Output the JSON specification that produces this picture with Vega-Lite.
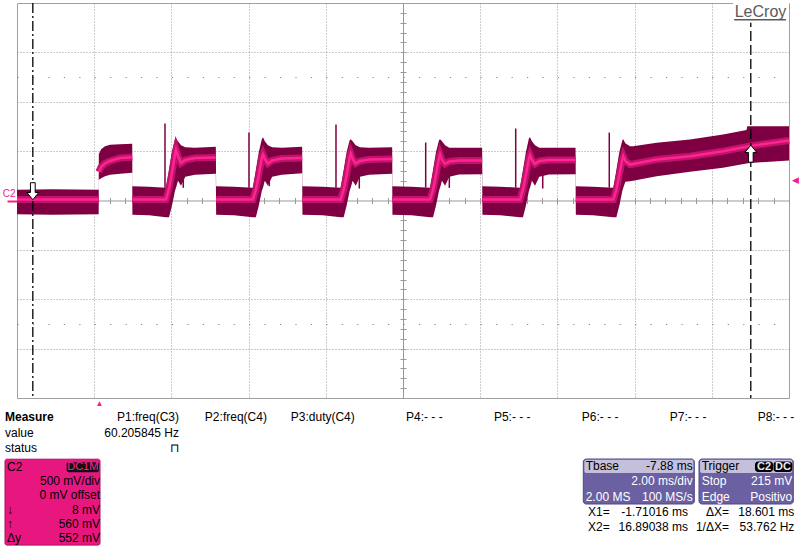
{
"$schema": "https://vega.github.io/schema/vega-lite/v6.json",
"width": 772, "height": 395,
"autosize": {"type": "none"},
"padding": {"left": 17, "top": 3, "right": 11, "bottom": 149},
"background": "white",
"config": {"view": {"stroke": "#a0a0a0", "strokeWidth": 1}, "font": "Liberation Sans"},
"datasets": {
"wave": [
{"t":-2.12,"u":0.11,"c":0.01,"l":-0.14,"s":0},{"t":-1.2,"u":0.115,"c":0.01,"l":-0.145,"s":0},{"t":-0.004,"u":0.11,"c":0.01,"l":-0.14,"s":0},
{"t":0.0,"u":0.47,"c":0.29,"l":0.21,"s":1},{"t":0.06,"u":0.52,"c":0.34,"l":0.225,"s":1},{"t":0.16,"u":0.55,"c":0.375,"l":0.245,"s":1},{"t":0.29,"u":0.565,"c":0.40,"l":0.26,"s":1},{"t":0.55,"u":0.57,"c":0.43,"l":0.27,"s":1},{"t":0.865,"u":0.575,"c":0.438,"l":0.28,"s":1},
{"t":0.869,"u":0.145,"c":0.01,"l":-0.145,"s":2},{"t":1.3,"u":0.14,"c":0.01,"l":-0.15,"s":2},{"t":1.74,"u":0.13,"c":0.01,"l":-0.17,"s":2},{"t":1.818,"u":0.31,"c":0.12,"l":-0.17,"s":2},{"t":1.895,"u":0.49,"c":0.28,"l":-0.05,"s":2},{"t":1.973,"u":0.62,"c":0.47,"l":0.10,"s":2},{"t":2.0,"u":0.63,"c":0.516,"l":0.13,"s":2},{"t":2.05,"u":0.60,"c":0.45,"l":0.20,"s":2},{"t":2.13,"u":0.56,"c":0.38,"l":0.15,"s":2},{"t":2.24,"u":0.54,"c":0.41,"l":0.24,"s":2},{"t":2.49,"u":0.535,"c":0.43,"l":0.26,"s":2},{"t":3.031,"u":0.545,"c":0.435,"l":0.27,"s":2},
{"t":3.039,"u":0.145,"c":0.01,"l":-0.145,"s":3},{"t":3.5,"u":0.14,"c":0.01,"l":-0.15,"s":3},{"t":3.99,"u":0.13,"c":0.01,"l":-0.17,"s":3},{"t":4.068,"u":0.31,"c":0.11,"l":-0.17,"s":3},{"t":4.145,"u":0.49,"c":0.26,"l":-0.05,"s":3},{"t":4.223,"u":0.62,"c":0.435,"l":0.10,"s":3},{"t":4.253,"u":0.64,"c":0.466,"l":0.13,"s":3},{"t":4.30,"u":0.60,"c":0.42,"l":0.20,"s":3},{"t":4.38,"u":0.56,"c":0.375,"l":0.15,"s":3},{"t":4.49,"u":0.54,"c":0.405,"l":0.24,"s":3},{"t":4.74,"u":0.535,"c":0.425,"l":0.26,"s":3},{"t":5.267,"u":0.545,"c":0.43,"l":0.275,"s":3},
{"t":5.275,"u":0.145,"c":0.01,"l":-0.145,"s":4},{"t":5.8,"u":0.14,"c":0.01,"l":-0.15,"s":4},{"t":6.265,"u":0.13,"c":0.01,"l":-0.17,"s":4},{"t":6.343,"u":0.31,"c":0.11,"l":-0.17,"s":4},{"t":6.42,"u":0.49,"c":0.26,"l":-0.05,"s":4},{"t":6.498,"u":0.61,"c":0.44,"l":0.10,"s":4},{"t":6.525,"u":0.62,"c":0.476,"l":0.13,"s":4},{"t":6.575,"u":0.60,"c":0.42,"l":0.20,"s":4},{"t":6.655,"u":0.56,"c":0.375,"l":0.15,"s":4},{"t":6.765,"u":0.54,"c":0.40,"l":0.24,"s":4},{"t":7.0,"u":0.535,"c":0.415,"l":0.26,"s":4},{"t":7.599,"u":0.54,"c":0.42,"l":0.27,"s":4},
{"t":7.607,"u":0.145,"c":0.01,"l":-0.145,"s":5},{"t":8.1,"u":0.14,"c":0.01,"l":-0.15,"s":5},{"t":8.58,"u":0.13,"c":0.01,"l":-0.17,"s":5},{"t":8.658,"u":0.31,"c":0.11,"l":-0.17,"s":5},{"t":8.735,"u":0.49,"c":0.26,"l":-0.05,"s":5},{"t":8.813,"u":0.61,"c":0.43,"l":0.10,"s":5},{"t":8.839,"u":0.62,"c":0.466,"l":0.13,"s":5},{"t":8.89,"u":0.60,"c":0.41,"l":0.20,"s":5},{"t":8.97,"u":0.56,"c":0.37,"l":0.15,"s":5},{"t":9.08,"u":0.535,"c":0.395,"l":0.24,"s":5},{"t":9.33,"u":0.533,"c":0.405,"l":0.263,"s":5},{"t":9.93,"u":0.535,"c":0.405,"l":0.265,"s":5},
{"t":9.938,"u":0.145,"c":0.01,"l":-0.145,"s":6},{"t":10.4,"u":0.14,"c":0.01,"l":-0.15,"s":6},{"t":10.91,"u":0.13,"c":0.01,"l":-0.17,"s":6},{"t":10.988,"u":0.31,"c":0.11,"l":-0.17,"s":6},{"t":11.065,"u":0.49,"c":0.26,"l":-0.05,"s":6},{"t":11.143,"u":0.63,"c":0.43,"l":0.10,"s":6},{"t":11.17,"u":0.64,"c":0.46,"l":0.13,"s":6},{"t":11.22,"u":0.60,"c":0.41,"l":0.20,"s":6},{"t":11.30,"u":0.56,"c":0.37,"l":0.15,"s":6},{"t":11.41,"u":0.535,"c":0.40,"l":0.24,"s":6},{"t":11.66,"u":0.533,"c":0.41,"l":0.263,"s":6},{"t":12.35,"u":0.535,"c":0.41,"l":0.265,"s":6},
{"t":12.358,"u":0.145,"c":0.01,"l":-0.145,"s":7},{"t":12.8,"u":0.14,"c":0.01,"l":-0.15,"s":7},{"t":13.33,"u":0.13,"c":0.01,"l":-0.17,"s":7},{"t":13.408,"u":0.31,"c":0.11,"l":-0.17,"s":7},{"t":13.485,"u":0.49,"c":0.26,"l":-0.05,"s":7},{"t":13.563,"u":0.61,"c":0.42,"l":0.10,"s":7},{"t":13.587,"u":0.62,"c":0.449,"l":0.13,"s":7},{"t":13.64,"u":0.58,"c":0.40,"l":0.19,"s":7},{"t":13.76,"u":0.55,"c":0.364,"l":0.195,"s":7},{"t":13.84,"u":0.55,"c":0.37,"l":0.2,"s":7},{"t":14.45,"u":0.584,"c":0.415,"l":0.246,"s":7},{"t":15.315,"u":0.617,"c":0.449,"l":0.29,"s":7},{"t":16.17,"u":0.668,"c":0.499,"l":0.331,"s":7},{"t":16.78,"u":0.715,"c":0.545,"l":0.375,"s":7},{"t":16.80,"u":0.752,"c":0.548,"l":0.378,"s":7},{"t":17.88,"u":0.752,"c":0.607,"l":0.405,"s":7}
],
"spikes": [
{"t":1.714,"v0":0.13,"v1":0.779},{"t":3.89,"v0":0.13,"v1":0.688},{"t":6.144,"v0":0.13,"v1":0.769},{"t":8.468,"v0":0.13,"v1":0.587},{"t":10.80,"v0":0.13,"v1":0.729},{"t":13.224,"v0":0.13,"v1":0.688},
{"t":2.188,"v0":0.26,"v1":0.128},{"t":4.416,"v0":0.26,"v1":0.145},{"t":6.748,"v0":0.26,"v1":0.121},{"t":9.08,"v0":0.26,"v1":0.128},{"t":11.50,"v0":0.26,"v1":0.121}
],
"cursors": [{"cursor":"X1","t":-1.71016,"v":0.008},{"cursor":"X2","t":16.89038,"v":0.56}],
"measure": [
{"col":0,"row":0,"text":"Measure"},{"col":0,"row":1,"text":"value"},{"col":0,"row":2,"text":"status"},
{"col":1,"row":0,"text":"P1:freq(C3)"},{"col":1,"row":1,"text":"60.205845 Hz"},{"col":1,"row":2,"text":"⊓"},
{"col":2,"row":0,"text":"P2:freq(C4)"},{"col":3,"row":0,"text":"P3:duty(C4)"},{"col":4,"row":0,"text":"P4:- - -"},{"col":5,"row":0,"text":"P5:- - -"},{"col":6,"row":0,"text":"P6:- - -"},{"col":7,"row":0,"text":"P7:- - -"},{"col":8,"row":0,"text":"P8:- - -"}
],
"channel": [{"row":0,"label":"C2","value":""},{"row":1,"label":"","value":"500 mV/div"},{"row":2,"label":"","value":"0 mV offset"},{"row":3,"label":"↓","value":"8 mV"},{"row":4,"label":"↑","value":"560 mV"},{"row":5,"label":"Δy","value":"552 mV"}],
"timebase": [{"row":0,"label":"Tbase","value":"-7.88 ms"},{"row":1,"label":"","value":"2.00 ms/div"},{"row":2,"label":"2.00 MS","value":"100 MS/s"}],
"trigger": [{"row":0,"label":"Trigger","value":""},{"row":1,"label":"Stop","value":"215 mV"},{"row":2,"label":"Edge","value":"Positivo"}],
"cursortext": [{"row":3,"a":"X1=","b":"-1.71016 ms","c":"ΔX=","d":"18.601 ms"},{"row":4,"a":"X2=","b":"16.89038 ms","c":"1/ΔX=","d":"53.762 Hz"}]
},
"layer": [
{
"layer": [
{"data":{"name":"wave"},"mark":{"type":"area","color":"#7e0042","opacity":1},
 "encoding":{
  "x":{"field":"t","type":"quantitative","scale":{"domain":[-2.12,17.88],"nice":false,"zero":false},
       "axis":{"orient":"bottom","values":[-0.12,1.88,3.88,5.88,9.88,11.88,13.88,15.88],"grid":true,"gridDash":[1,2],"gridColor":"#999999","gridOpacity":1,"labels":false,"ticks":false,"domain":false,"title":null}},
  "y":{"field":"u","type":"quantitative","scale":{"domain":[-2,2],"nice":false,"zero":false},
       "axis":{"orient":"left","values":[-1.5,-1,-0.5,0.5,1,1.5],"grid":true,"gridDash":[1,2],"gridColor":"#999999","gridOpacity":1,"labels":false,"ticks":false,"domain":false,"title":null}},
  "y2":{"field":"l"}}},
{"data":{"name":"wave"},"mark":{"type":"line","color":"#c0136a","strokeWidth":7,"strokeCap":"butt"},
 "encoding":{
  "x":{"field":"t","type":"quantitative","scale":{"domain":[-2.12,17.88],"nice":false,"zero":false},
       "axis":{"orient":"bottom","offset":-197.5,"values":[-2.12,-1.72,-1.32,-0.92,-0.52,-0.12,0.28,0.68,1.08,1.48,1.88,2.28,2.68,3.08,3.48,3.88,4.28,4.68,5.08,5.48,5.88,6.28,6.68,7.08,7.48,7.88,8.28,8.68,9.08,9.48,9.88,10.28,10.68,11.08,11.48,11.88,12.28,12.68,13.08,13.48,13.88,14.28,14.68,15.08,15.48,15.88,16.28,16.68,17.08,17.48,17.88],"domain":true,"domainColor":"#999999","ticks":true,"tickSize":3,"tickColor":"#999999","labels":false,"grid":false,"title":null}},
  "y":{"field":"c","type":"quantitative","scale":{"domain":[-2,2],"nice":false,"zero":false},
       "axis":{"orient":"left","offset":-386,"values":[-1.9,-1.8,-1.7,-1.6,-1.5,-1.4,-1.3,-1.2,-1.1,-1,-0.9,-0.8,-0.7,-0.6,-0.5,-0.4,-0.3,-0.2,-0.1,0,0.1,0.2,0.3,0.4,0.5,0.6,0.7,0.8,0.9,1,1.1,1.2,1.3,1.4,1.5,1.6,1.7,1.8,1.9],"domain":true,"domainColor":"#999999","ticks":true,"tickSize":3,"tickColor":"#999999","labels":false,"grid":false,"title":null}},
  "detail":{"field":"s","type":"nominal"}}},
{"data":{"name":"wave"},"mark":{"type":"line","color":"#ff2492","strokeWidth":2.5},
 "encoding":{
  "x":{"field":"t","type":"quantitative","scale":{"domain":[-2.12,17.88],"nice":false,"zero":false},
       "axis":{"orient":"top","offset":-197.5,"values":[-2.12,-1.72,-1.32,-0.92,-0.52,-0.12,0.28,0.68,1.08,1.48,1.88,2.28,2.68,3.08,3.48,3.88,4.28,4.68,5.08,5.48,5.88,6.28,6.68,7.08,7.48,7.88,8.28,8.68,9.08,9.48,9.88,10.28,10.68,11.08,11.48,11.88,12.28,12.68,13.08,13.48,13.88,14.28,14.68,15.08,15.48,15.88,16.28,16.68,17.08,17.48,17.88],"domain":false,"ticks":true,"tickSize":3,"tickColor":"#999999","labels":false,"grid":false,"title":null}},
  "y":{"field":"c","type":"quantitative","scale":{"domain":[-2,2],"nice":false,"zero":false},
       "axis":{"orient":"right","offset":-386,"values":[-1.9,-1.8,-1.7,-1.6,-1.5,-1.4,-1.3,-1.2,-1.1,-1,-0.9,-0.8,-0.7,-0.6,-0.5,-0.4,-0.3,-0.2,-0.1,0,0.1,0.2,0.3,0.4,0.5,0.6,0.7,0.8,0.9,1,1.1,1.2,1.3,1.4,1.5,1.6,1.7,1.8,1.9],"domain":false,"ticks":true,"tickSize":3,"tickColor":"#999999","labels":false,"grid":false,"title":null}},
  "detail":{"field":"s","type":"nominal"}}},
{"data":{"name":"spikes"},"mark":{"type":"rule","color":"#7e0042","strokeWidth":1.5},
 "encoding":{
  "x":{"field":"t","type":"quantitative","scale":{"domain":[-2.12,17.88],"nice":false,"zero":false},
       "axis":{"orient":"bottom","values":[0],"labelExpr":"'▲'","labelColor":"#f0208a","labelFontSize":8,"labelPadding":1,"ticks":false,"domain":false,"grid":false,"title":null}},
  "y":{"field":"v0","type":"quantitative","scale":{"domain":[-2,2],"nice":false,"zero":false},
       "axis":{"orient":"left","values":[-1.25,1.25],"grid":true,"gridDash":[1.2,14.24],"gridColor":"#888888","gridOpacity":1,"labels":false,"ticks":false,"domain":false,"title":null}},
  "y2":{"field":"v1"}}},
{"data":{"name":"cursors"},"mark":{"type":"rule","color":"black","strokeWidth":1.3},
 "encoding":{
  "x":{"field":"t","type":"quantitative","scale":{"domain":[-2.12,17.88],"nice":false,"zero":false},"axis":null},
  "strokeDash":{"field":"cursor","type":"nominal","scale":{"domain":["X1","X2"],"range":[[10,3,2,3],[10,4]]},"legend":null}}},
{"data":{"name":"cursors"},"mark":{"type":"point","filled":true,"fill":"white","stroke":"black","strokeWidth":1,"opacity":1,"size":289},
 "encoding":{
  "x":{"field":"t","type":"quantitative","scale":{"domain":[-2.12,17.88],"nice":false,"zero":false},"axis":null},
  "y":{"field":"v","type":"quantitative","scale":{"domain":[-2,2],"nice":false,"zero":false},
       "axis":{"orient":"left","values":[0],"labelExpr":"'C2'","labelColor":"#f0208a","labelFontSize":10,"labelPadding":-8,"labelBaseline":"alphabetic","labelOffset":-4,"ticks":true,"tickSize":10,"tickWidth":2,"tickColor":"#f0208a","domain":false,"grid":false,"title":null}},
  "shape":{"field":"cursor","type":"nominal","scale":{"domain":["X1","X2"],"range":["M-0.28,-2L0.28,-2L0.28,-0.85L0.7,-0.85L0,0L-0.7,-0.85L-0.28,-0.85Z","M0,0L0.7,0.85L0.28,0.85L0.28,2L-0.28,2L-0.28,0.85L-0.7,0.85Z"]},"legend":null}}},
{"data":{"values":[{}]},"mark":{"type":"rect","fill":"white"},
 "encoding":{
  "x":{"datum":16.43,"type":"quantitative","scale":{"domain":[-2.12,17.88],"nice":false,"zero":false},"axis":null},
  "x2":{"datum":17.88},
  "y":{"datum":2,"type":"quantitative","scale":{"domain":[-2,2],"nice":false,"zero":false},
       "axis":{"orient":"right","values":[0.215],"labelExpr":"'◀'","labelColor":"#f0208a","labelFontSize":9,"labelPadding":2,"ticks":false,"domain":false,"grid":false,"title":null}},
  "y2":{"datum":1.8}}},
{"data":{"values":[{}]},"mark":{"type":"rule","color":"#5a5a5a","strokeWidth":1.5},
 "encoding":{
  "x":{"datum":16.46,"type":"quantitative","scale":{"domain":[-2.12,17.88],"nice":false,"zero":false},"axis":null},
  "x2":{"datum":17.80},
  "y":{"datum":1.83,"type":"quantitative","scale":{"domain":[-2,2],"nice":false,"zero":false},"axis":null}}},
{"data":{"values":[{"text":"LeCroy"}]},"mark":{"type":"text","align":"right","baseline":"alphabetic","fontSize":16,"fill":"#5a5a5a"},
 "encoding":{
  "x":{"datum":17.81,"type":"quantitative","scale":{"domain":[-2.12,17.88],"nice":false,"zero":false},"axis":null},
  "y":{"datum":1.86,"type":"quantitative","scale":{"domain":[-2,2],"nice":false,"zero":false},"axis":null},
  "text":{"field":"text"}}}
],
"resolve":{"axis":{"x":"independent","y":"independent"}}
},
{
"layer": [
{"data":{"name":"measure"},
 "layer":[
  {"transform":[{"filter":"datum.col == 0 && datum.row == 0"}],
   "mark":{"type":"text","align":"left","baseline":"middle","fontSize":12,"fontWeight":"bold","fill":"black"},
   "encoding":{"x":{"field":"col","type":"quantitative","scale":{"domain":[0,1],"range":[-12,76]},"axis":null},
     "y":{"field":"row","type":"quantitative","scale":{"domain":[0,2],"range":[413.7,445.3]},"axis":null},
     "text":{"field":"text"}}},
  {"transform":[{"filter":"datum.col == 0 && datum.row > 0"}],
   "mark":{"type":"text","align":"left","baseline":"middle","fontSize":12,"fill":"black"},
   "encoding":{"x":{"field":"col","type":"quantitative","scale":{"domain":[0,1],"range":[-12,76]},"axis":null},
     "y":{"field":"row","type":"quantitative","scale":{"domain":[0,2],"range":[413.7,445.3]},"axis":null},
     "text":{"field":"text"}}},
  {"transform":[{"filter":"datum.col > 0"}],
   "mark":{"type":"text","align":"right","baseline":"middle","fontSize":12,"fill":"black"},
   "encoding":{"x":{"field":"col","type":"quantitative","scale":{"domain":[1,8],"range":[162,777.3]},"axis":null},
     "y":{"field":"row","type":"quantitative","scale":{"domain":[0,2],"range":[413.7,445.3]},"axis":null},
     "text":{"field":"text"}}}
 ],
 "resolve":{"scale":{"x":"independent"}}},
{"layer":[
  {"data":{"values":[{}]},"mark":{"type":"rect","fill":"#e8177f","stroke":"#a8105e","strokeWidth":1,"cornerRadius":2},
   "encoding":{"x":{"datum":0,"type":"quantitative","scale":{"domain":[0,1],"range":[-12,83]},"axis":null},"x2":{"datum":1},
     "y":{"datum":-0.55,"type":"quantitative","scale":{"domain":[0,5],"range":[464,535]},"axis":null},"y2":{"datum":5.5}}},
  {"data":{"values":[{}]},"mark":{"type":"rect","fill":"#111111","cornerRadius":2},
   "encoding":{"x":{"datum":0.649,"type":"quantitative","scale":{"domain":[0,1],"range":[-12,83]},"axis":null},"x2":{"datum":0.989},
     "y":{"datum":-0.33,"type":"quantitative","scale":{"domain":[0,5],"range":[464,535]},"axis":null},"y2":{"datum":0.37}}},
  {"data":{"values":[{"text":"DC1M"}]},"mark":{"type":"text","align":"center","baseline":"middle","fontSize":11,"fill":"#ff2492"},
   "encoding":{"x":{"datum":0.819,"type":"quantitative","scale":{"domain":[0,1],"range":[-12,83]},"axis":null},
     "y":{"datum":0.03,"type":"quantitative","scale":{"domain":[0,5],"range":[464,535]},"axis":null},"text":{"field":"text"}}},
  {"data":{"name":"channel"},"mark":{"type":"text","align":"left","baseline":"middle","fontSize":12,"fill":"black","dx":2},
   "encoding":{"x":{"datum":0,"type":"quantitative","scale":{"domain":[0,1],"range":[-12,83]},"axis":null},
     "y":{"field":"row","type":"quantitative","scale":{"domain":[0,5],"range":[464,535]},"axis":null},"text":{"field":"label"}}},
  {"data":{"name":"channel"},"mark":{"type":"text","align":"right","baseline":"middle","fontSize":12,"fill":"black"},
   "encoding":{"x":{"datum":1,"type":"quantitative","scale":{"domain":[0,1],"range":[-12,83]},"axis":null},
     "y":{"field":"row","type":"quantitative","scale":{"domain":[0,5],"range":[464,535]},"axis":null},"text":{"field":"value"}}}
]},
{"layer":[
  {"data":{"values":[{}]},"mark":{"type":"rect","fill":"#6a60a2","stroke":"#4e4785","strokeWidth":1,"cornerRadius":3},
   "encoding":{"x":{"datum":0,"type":"quantitative","scale":{"domain":[0,1],"range":[566.3,776.3]},"axis":null},"x2":{"datum":0.5286},
     "y":{"datum":-0.456,"type":"quantitative","scale":{"domain":[0,4],"range":[463,524.4]},"axis":null},"y2":{"datum":2.476}}},
  {"data":{"values":[{}]},"mark":{"type":"rect","fill":"#c4c0dc","cornerRadius":2},
   "encoding":{"x":{"datum":0.005,"type":"quantitative","scale":{"domain":[0,1],"range":[566.3,776.3]},"axis":null},"x2":{"datum":0.524},
     "y":{"datum":-0.41,"type":"quantitative","scale":{"domain":[0,4],"range":[463,524.4]},"axis":null},"y2":{"datum":0.45}}},
  {"data":{"values":[{}]},"mark":{"type":"rect","fill":"#6a60a2","stroke":"#4e4785","strokeWidth":1,"cornerRadius":3},
   "encoding":{"x":{"datum":0.551,"type":"quantitative","scale":{"domain":[0,1],"range":[566.3,776.3]},"axis":null},"x2":{"datum":1.0},
     "y":{"datum":-0.456,"type":"quantitative","scale":{"domain":[0,4],"range":[463,524.4]},"axis":null},"y2":{"datum":2.476}}},
  {"data":{"values":[{}]},"mark":{"type":"rect","fill":"#c4c0dc","cornerRadius":2},
   "encoding":{"x":{"datum":0.556,"type":"quantitative","scale":{"domain":[0,1],"range":[566.3,776.3]},"axis":null},"x2":{"datum":0.995},
     "y":{"datum":-0.41,"type":"quantitative","scale":{"domain":[0,4],"range":[463,524.4]},"axis":null},"y2":{"datum":0.45}}},
  {"data":{"values":[{}]},"mark":{"type":"rect","fill":"#000000","cornerRadius":3},
   "encoding":{"x":{"datum":0.8176,"type":"quantitative","scale":{"domain":[0,1],"range":[566.3,776.3]},"axis":null},"x2":{"datum":0.9033},
     "y":{"datum":-0.293,"type":"quantitative","scale":{"domain":[0,4],"range":[463,524.4]},"axis":null},"y2":{"datum":0.391}}},
  {"data":{"values":[{}]},"mark":{"type":"rect","fill":"#000000","cornerRadius":3},
   "encoding":{"x":{"datum":0.9057,"type":"quantitative","scale":{"domain":[0,1],"range":[566.3,776.3]},"axis":null},"x2":{"datum":0.9952},
     "y":{"datum":-0.293,"type":"quantitative","scale":{"domain":[0,4],"range":[463,524.4]},"axis":null},"y2":{"datum":0.391}}},
  {"data":{"values":[{"text":"C2"}]},"mark":{"type":"text","align":"center","baseline":"middle","fontSize":11,"fontWeight":"bold","fill":"#e8e6f4"},
   "encoding":{"x":{"datum":0.8605,"type":"quantitative","scale":{"domain":[0,1],"range":[566.3,776.3]},"axis":null},
     "y":{"datum":0.05,"type":"quantitative","scale":{"domain":[0,4],"range":[463,524.4]},"axis":null},"text":{"field":"text"}}},
  {"data":{"values":[{"text":"DC"}]},"mark":{"type":"text","align":"center","baseline":"middle","fontSize":11,"fontWeight":"bold","fill":"#e8e6f4"},
   "encoding":{"x":{"datum":0.9505,"type":"quantitative","scale":{"domain":[0,1],"range":[566.3,776.3]},"axis":null},
     "y":{"datum":0.05,"type":"quantitative","scale":{"domain":[0,4],"range":[463,524.4]},"axis":null},"text":{"field":"text"}}},
  {"data":{"name":"timebase"},"mark":{"type":"text","align":"left","baseline":"middle","fontSize":12},
   "encoding":{"x":{"datum":0.0114,"type":"quantitative","scale":{"domain":[0,1],"range":[566.3,776.3]},"axis":null},
     "y":{"field":"row","type":"quantitative","scale":{"domain":[0,4],"range":[463,524.4]},"axis":null},"text":{"field":"label"},
     "fill":{"condition":{"test":"datum.row == 0","value":"black"},"value":"white"}}},
  {"data":{"name":"timebase"},"mark":{"type":"text","align":"right","baseline":"middle","fontSize":12},
   "encoding":{"x":{"datum":0.521,"type":"quantitative","scale":{"domain":[0,1],"range":[566.3,776.3]},"axis":null},
     "y":{"field":"row","type":"quantitative","scale":{"domain":[0,4],"range":[463,524.4]},"axis":null},"text":{"field":"value"},
     "fill":{"condition":{"test":"datum.row == 0","value":"black"},"value":"white"}}},
  {"data":{"name":"trigger"},"mark":{"type":"text","align":"left","baseline":"middle","fontSize":12},
   "encoding":{"x":{"datum":0.5638,"type":"quantitative","scale":{"domain":[0,1],"range":[566.3,776.3]},"axis":null},
     "y":{"field":"row","type":"quantitative","scale":{"domain":[0,4],"range":[463,524.4]},"axis":null},"text":{"field":"label"},
     "fill":{"condition":{"test":"datum.row == 0","value":"black"},"value":"white"}}},
  {"data":{"name":"trigger"},"mark":{"type":"text","align":"right","baseline":"middle","fontSize":12},
   "encoding":{"x":{"datum":0.9952,"type":"quantitative","scale":{"domain":[0,1],"range":[566.3,776.3]},"axis":null},
     "y":{"field":"row","type":"quantitative","scale":{"domain":[0,4],"range":[463,524.4]},"axis":null},"text":{"field":"value"},
     "fill":{"condition":{"test":"datum.row == 0","value":"black"},"value":"white"}}},
  {"data":{"name":"cursortext"},"mark":{"type":"text","align":"left","baseline":"middle","fontSize":12,"fill":"black"},
   "encoding":{"x":{"datum":0.0224,"type":"quantitative","scale":{"domain":[0,1],"range":[566.3,776.3]},"axis":null},
     "y":{"field":"row","type":"quantitative","scale":{"domain":[0,4],"range":[463,524.4]},"axis":null},"text":{"field":"a"}}},
  {"data":{"name":"cursortext"},"mark":{"type":"text","align":"right","baseline":"middle","fontSize":12,"fill":"black"},
   "encoding":{"x":{"datum":0.4986,"type":"quantitative","scale":{"domain":[0,1],"range":[566.3,776.3]},"axis":null},
     "y":{"field":"row","type":"quantitative","scale":{"domain":[0,4],"range":[463,524.4]},"axis":null},"text":{"field":"b"}}},
  {"data":{"name":"cursortext"},"mark":{"type":"text","align":"right","baseline":"middle","fontSize":12,"fill":"black"},
   "encoding":{"x":{"datum":0.6938,"type":"quantitative","scale":{"domain":[0,1],"range":[566.3,776.3]},"axis":null},
     "y":{"field":"row","type":"quantitative","scale":{"domain":[0,4],"range":[463,524.4]},"axis":null},"text":{"field":"c"}}},
  {"data":{"name":"cursortext"},"mark":{"type":"text","align":"right","baseline":"middle","fontSize":12,"fill":"black"},
   "encoding":{"x":{"datum":1.0048,"type":"quantitative","scale":{"domain":[0,1],"range":[566.3,776.3]},"axis":null},
     "y":{"field":"row","type":"quantitative","scale":{"domain":[0,4],"range":[463,524.4]},"axis":null},"text":{"field":"d"}}}
]}
],
"resolve":{"scale":{"x":"independent","y":"independent"}}
}
],
"resolve":{"scale":{"x":"independent","y":"independent"}}
}
